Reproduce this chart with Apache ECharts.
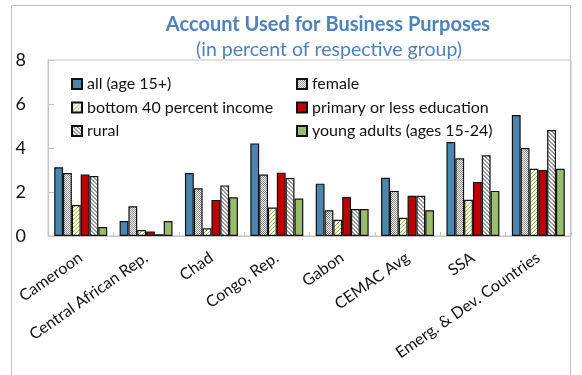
<!DOCTYPE html>
<html>
<head>
<meta charset="utf-8">
<script src="https://cdn.jsdelivr.net/npm/echarts@6/dist/echarts.min.js"></script>
<style>html,body{margin:0;padding:0;background:#fff}#c{width:582px;height:375px}</style>
</head>
<body>
<div id="c"></div>
<script>
var categories = ['Cameroon', 'Central African Rep.', 'Chad', 'Congo, Rep.', 'Gabon', 'CEMAC Avg', 'SSA', 'Emerg. & Dev. Countries'];
var seriesNames = ['all (age 15+)', 'female', 'bottom 40 percent income', 'primary or less education', 'rural', 'young adults (ages 15-24)'];
var allAdults = [3.12, 0.68, 2.86, 4.21, 2.38, 2.65, 4.27, 5.50];
var female = [2.86, 1.35, 2.17, 2.79, 1.17, 2.05, 3.53, 4.00];
var bottom40 = [1.41, 0.27, 0.35, 1.29, 0.74, 0.83, 1.65, 3.06];
var primaryEdu = [2.79, 0.20, 1.64, 2.88, 1.77, 1.83, 2.45, 3.00];
var rural = [2.73, 0.08, 2.30, 2.64, 1.23, 1.83, 3.67, 4.82];
var youngAdults = [0.41, 0.68, 1.76, 1.70, 1.23, 1.17, 2.05, 3.06];
var yTicks = [0, 2, 4, 6, 8];

function makePattern(size, bg, fg, test) {
  var c = document.createElement('canvas');
  c.width = size; c.height = size;
  var ctx = c.getContext('2d');
  ctx.fillStyle = bg; ctx.fillRect(0, 0, size, size);
  ctx.fillStyle = fg;
  for (var x = 0; x < size; x++) for (var y = 0; y < size; y++) if (test(x, y)) ctx.fillRect(x, y, 1, 1);
  return {image: c, repeat: 'repeat'};
}
var femalePat = makePattern(2, '#ffffff', '#8a8a8a', function (x, y) { return (x + y) % 2 === 0; });
var bottomPat = makePattern(4, '#ffffff', '#9BBB59', function (x, y) { return (x + y) % 4 === 0; });
var ruralPat = makePattern(4, '#ffffff', '#9a9a9a', function (x, y) { return ((x - y + 8) % 4) === 0 || ((x - y + 8) % 4) === 1; });

var fills = ['#4A86AD', femalePat, bottomPat, '#C00000', ruralPat, '#9BBB6E'];
var dataSets = [allAdults, female, bottom40, primaryEdu, rural, youngAdults];
var FONT = 'Lato';

var series = dataSets.map(function (d, i) {
  return {
    name: seriesNames[i], type: 'bar', data: d,
    barGap: '0%', barCategoryGap: '19%',
    itemStyle: {color: fills[i], borderColor: '#111', borderWidth: 1.2},
    emphasis: {disabled: true}
  };
});

var legendText = {fontFamily: FONT, fontSize: 16, color: '#111', lineHeight: 16};

var chart = echarts.init(document.getElementById('c'), null, {renderer: 'canvas'});
chart.setOption({
  animation: false,
  backgroundColor: '#fff',
  title: [
    {text: 'Account Used for Business Purposes', left: 323, top: 10, textAlign: 'center',
     textStyle: {fontFamily: FONT, fontSize: 20, fontWeight: 'bold', color: '#4F81BD'}},
    {text: '(in percent of respective group)', left: 324, top: 35, textAlign: 'center',
     textStyle: {fontFamily: FONT, fontSize: 19.5, fontWeight: 'normal', color: '#4F81BD'}}
  ],
  graphic: [{type: 'rect', shape: {x: 11.5, y: 5.5, width: 559, height: 420}, style: {fill: 'none', stroke: '#c4c4c4', lineWidth: 1}, silent: true}],
  legend: [
    {data: [seriesNames[0], seriesNames[2], seriesNames[4]], orient: 'vertical', left: 66, top: 71,
     itemWidth: 10, itemHeight: 10, itemGap: 7.5, icon: 'rect', textStyle: legendText},
    {data: [seriesNames[1], seriesNames[3], seriesNames[5]], orient: 'vertical', left: 291, top: 71,
     itemWidth: 10, itemHeight: 10, itemGap: 7.5, icon: 'rect', textStyle: legendText}
  ],
  grid: {left: 48, top: 60, right: 11, bottom: 139, show: true, borderColor: '#c4c4c4', borderWidth: 1, containLabel: false},
  xAxis: {
    type: 'category', data: categories,
    axisLine: {lineStyle: {color: '#c4c4c4', width: 1}},
    axisTick: {show: true, inside: true, length: 4, interval: 0, lineStyle: {color: '#c4c4c4'}},
    axisLabel: {interval: 0, rotate: 35, margin: 20, fontFamily: FONT, fontSize: 16, color: '#111'}
  },
  yAxis: {
    type: 'value', min: yTicks[0], max: yTicks[yTicks.length - 1], interval: 2,
    axisLine: {show: true, lineStyle: {color: '#c4c4c4', width: 1}},
    axisTick: {show: true, inside: true, length: 6, lineStyle: {color: '#c4c4c4'}},
    splitLine: {show: false},
    axisLabel: {margin: 22, fontFamily: FONT, fontSize: 18, color: '#111'}
  },
  series: series
});
</script>
</body>
</html>
